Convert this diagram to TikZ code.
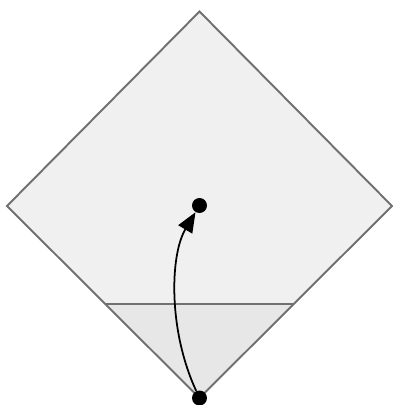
\documentclass[tikz,border=0pt]{standalone}
\usetikzlibrary{arrows.meta}
\definecolor{edgegrey}{HTML}{707070}
\definecolor{upperfill}{HTML}{F0F0F0}
\definecolor{lowerfill}{HTML}{E7E7E7}
\tikzset{
    dot/.style={circle, fill=black, inner sep=0pt, minimum size=0.3cm},
    rim/.style={draw=edgegrey, line width=1.1pt}
}
\begin{document}
\begin{tikzpicture}[>={Triangle[length=4mm,width=3.2mm]}, line join=miter]
    \useasboundingbox (0,0) rectangle (7.86,8.1);

    % Diamond
    \coordinate (T) at (3.99,7.87);
    \coordinate (L) at (0.14,3.98);
    \coordinate (R) at (7.84,3.98);
    \coordinate (B) at (3.99,0.14);
    \coordinate (cutL) at (2.11,2.02);
    \coordinate (cutR) at (5.87,2.02);
    \fill[upperfill] (T) -- (R) -- (B) -- (L) -- cycle;
    \fill[lowerfill] (cutL) -- (cutR) -- (B) -- cycle;
    \draw[rim] (T) -- (R) -- (B) -- (L) -- cycle;
    \draw[rim] (cutL) -- (cutR);

    % Points
    \node[dot] (centre) at (3.99,3.99) {};
    \node[dot] (base) at (B) {};

    % Path
    \draw[->, line width=1pt] (base) .. controls (3.36,1.5) and (3.4,3.0) .. (centre);
\end{tikzpicture}
\end{document}
